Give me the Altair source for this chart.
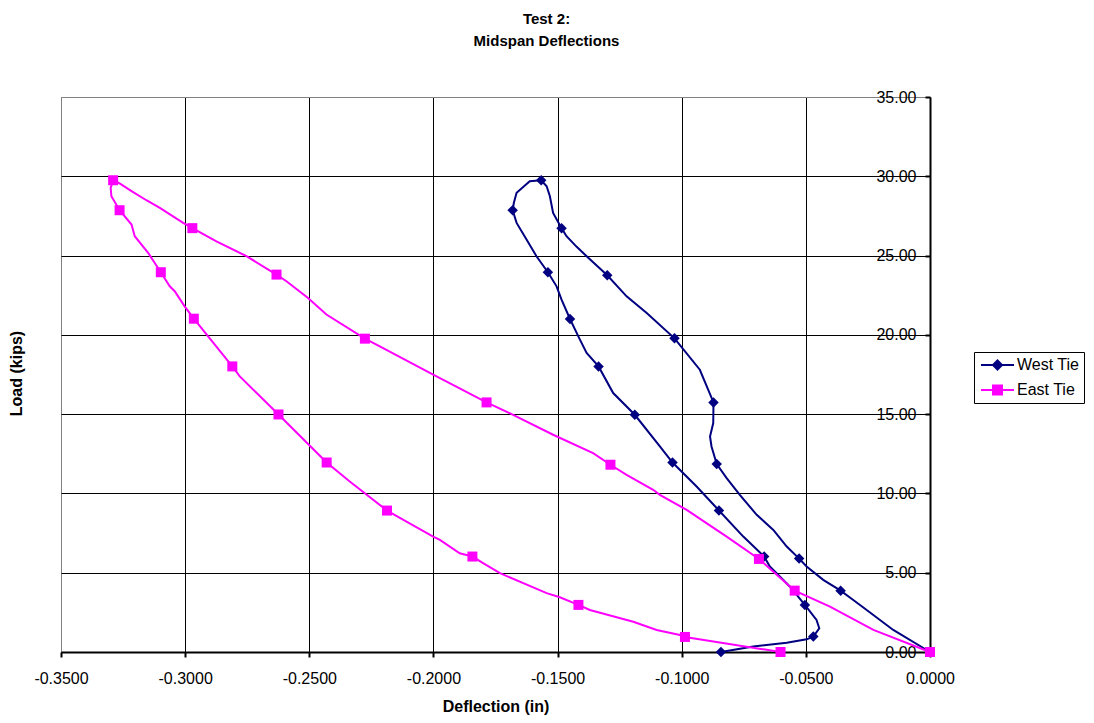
import altair as alt
import pandas as pd

# ---------------- data ----------------
series_names = ["West Tie", "East Tie"]
series_colors = ["#000080", "#FF00FF"]

west_x = [0.0000, -0.0148, -0.0255, -0.0309, -0.0360, -0.0430, -0.0497, -0.0527, -0.0577, -0.0631,
          -0.0698, -0.0766, -0.0819, -0.0859, -0.0880, -0.0886, -0.0873, -0.0872, -0.0927, -0.1029,
          -0.1141, -0.1222, -0.1300, -0.1383, -0.1423, -0.1464, -0.1484, -0.1518, -0.1531, -0.1544,
          -0.1566, -0.1612, -0.1665, -0.1676, -0.1681, -0.1665, -0.1625, -0.1585, -0.1539, -0.1504,
          -0.1484, -0.1450, -0.1410, -0.1383, -0.1335, -0.1276, -0.1189, -0.1088, -0.1037, -0.0940,
          -0.0850, -0.0752, -0.0668, -0.0645, -0.0564, -0.0504, -0.0457, -0.0446, -0.0470, -0.0497,
          -0.0577, -0.0712, -0.0842]
west_y = [0.00, 1.39, 2.65, 3.28, 3.87, 4.55, 5.39, 5.89, 6.65, 7.70,
          8.65, 9.91, 10.97, 11.85, 12.96, 13.59, 14.44, 15.74, 17.80, 19.78,
          21.38, 22.43, 23.76, 24.96, 25.55, 26.22, 26.73, 27.69, 28.74, 29.37,
          29.75, 29.69, 28.96, 28.33, 27.86, 27.06, 26.01, 24.96, 23.95, 23.06,
          22.22, 21.00, 19.70, 18.86, 18.01, 16.33, 14.96, 12.96, 11.95, 10.44,
          8.92, 7.28, 6.02, 5.39, 4.12, 2.97, 2.02, 1.50, 0.97, 0.80,
          0.59, 0.34, 0.00]
west_marker = [1, 0, 0, 0, 1, 0, 0, 1, 0, 0,
               0, 0, 0, 1, 0, 0, 0, 1, 0, 1,
               0, 0, 1, 0, 0, 0, 1, 0, 0, 0,
               1, 0, 0, 0, 1, 0, 0, 0, 1, 0,
               0, 1, 0, 0, 1, 0, 1, 0, 1, 0,
               1, 0, 1, 0, 0, 1, 0, 0, 1, 0,
               0, 0, 1]

east_x = [0.0000, -0.0228, -0.0403, -0.0545, -0.0689, -0.0819, -0.0980, -0.1088, -0.1115, -0.1222,
          -0.1287, -0.1357, -0.1518, -0.1679, -0.1786, -0.2001, -0.2216, -0.2276, -0.2431, -0.2505,
          -0.2592, -0.2632, -0.2753, -0.2874, -0.2971, -0.3008, -0.3102, -0.3156, -0.3216, -0.3264,
          -0.3290, -0.3300, -0.3297, -0.3264, -0.3216, -0.3203, -0.3149, -0.3098, -0.3062, -0.3042,
          -0.3002, -0.2965, -0.2810, -0.2780, -0.2624, -0.2430, -0.2337, -0.2187, -0.2001, -0.1974,
          -0.1894, -0.1843, -0.1800, -0.1732, -0.1544, -0.1491, -0.1416, -0.1370, -0.1195, -0.1101,
          -0.1007, -0.0987, -0.0602]
east_y = [0.00, 1.39, 2.86, 3.87, 5.87, 7.28, 8.96, 9.91, 10.23, 11.17,
          11.81, 12.54, 13.70, 14.96, 15.74, 17.49, 19.27, 19.76, 21.28, 22.33,
          23.38, 23.80, 24.96, 25.90, 26.73, 27.06, 28.01, 28.49, 29.06, 29.55,
          29.75, 29.27, 28.74, 27.86, 26.96, 26.22, 25.17, 23.95, 23.06, 22.75,
          21.80, 21.02, 18.01, 17.38, 14.98, 11.95, 10.75, 8.92, 7.28, 7.07,
          6.23, 6.02, 5.60, 4.97, 3.71, 3.45, 2.97, 2.65, 1.91, 1.39,
          1.07, 0.95, 0.00]
east_marker = [1, 0, 0, 1, 1, 0, 0, 0, 0, 0,
               1, 0, 0, 0, 1, 0, 0, 1, 0, 0,
               0, 1, 0, 0, 1, 0, 0, 0, 0, 0,
               1, 0, 0, 1, 0, 0, 0, 1, 0, 0,
               0, 1, 1, 0, 1, 1, 0, 1, 0, 0,
               0, 1, 0, 0, 0, 0, 1, 0, 0, 0,
               0, 1, 1]

x_ticks = [-0.35, -0.30, -0.25, -0.20, -0.15, -0.10, -0.05, 0.0]
y_ticks = [0, 5, 10, 15, 20, 25, 30, 35]

# ---------------- table ----------------
rows = []
for name, xs, ys, ms in [(series_names[0], west_x, west_y, west_marker),
                         (series_names[1], east_x, east_y, east_marker)]:
    for i, (xv, yv, mv) in enumerate(zip(xs, ys, ms)):
        rows.append({"series": name, "idx": i, "x": xv, "y": yv, "marker": mv})
df = pd.DataFrame(rows)

FONT = "Liberation Sans"

# legend glyphs: line with marker (custom paths)
legend_paths = [
    "M-0.75,0L3.375,0M1.3125,-0.5625L1.875,0L1.3125,0.5625L0.75,0Z",
    "M-0.75,0L3.375,0M0.75,-0.5625L1.875,-0.5625L1.875,0.5625L0.75,0.5625Z",
]

x_enc = alt.X(
    "x:Q",
    scale=alt.Scale(domain=[-0.35, 0.0], nice=False, zero=False),
    axis=alt.Axis(
        values=x_ticks,
        title="Deflection (in)",
        labelExpr="(datum.value < -0.00001 ? '-' : '') + format(abs(datum.value), '.4f')",
        labelFlush=False,
        tickSize=5, tickWidth=2, domainWidth=2, labelPadding=13,
        gridColor=alt.condition("datum.value < -0.349", alt.value("#808080"), alt.value("black")),
        titleY=54, titleBaseline="middle",
    ),
)
y_enc = alt.Y(
    "y:Q",
    scale=alt.Scale(domain=[0, 35], nice=False),
    axis=alt.Axis(
        values=y_ticks,
        format=".2f",
        orient="left",
        offset=-869,
        labelFlush=False,
        title="Load (kips)",
        titleX=-906, titleY=276,
        tickSize=5, tickWidth=2, domainWidth=2, labelPadding=9,
        gridColor=alt.condition("datum.value > 34.9", alt.value("#808080"), alt.value("black")),
    ),
)
color_scale = alt.Scale(domain=series_names, range=series_colors)

base = alt.Chart(df)

leg = alt.Legend(
    title=None, orient="none", legendX=913, legendY=255,
    padding=4, rowPadding=7, symbolSize=256, symbolStrokeWidth=2,
    symbolOpacity=1, labelOffset=21, labelFontSize=16, labelFont=FONT,
    labelColor="black", strokeColor="black", fillColor="white",
)
# invisible layer that only carries the legend (first, so its legend settings win)
legend_layer = base.transform_filter(alt.datum.marker == 1).mark_point(filled=True, opacity=0).encode(
    x=x_enc, y=y_enc,
    color=alt.Color("series:N", scale=color_scale, legend=leg),
    stroke=alt.Stroke("series:N", scale=alt.Scale(domain=series_names, range=series_colors), legend=leg),
    shape=alt.Shape("series:N", scale=alt.Scale(domain=series_names, range=legend_paths), legend=leg),
)

west_line = base.transform_filter(alt.datum.series == series_names[0]).mark_line(strokeWidth=2).encode(
    x=x_enc, y=y_enc, order="idx:Q",
    color=alt.Color("series:N", scale=color_scale, legend=None),
)
west_pts = base.transform_filter(
    (alt.datum.series == series_names[0]) & (alt.datum.marker == 1)
).mark_point(shape="diamond", filled=True, size=110, opacity=1).encode(
    x=x_enc, y=y_enc, color=alt.Color("series:N", scale=color_scale, legend=None),
)
east_line = base.transform_filter(alt.datum.series == series_names[1]).mark_line(strokeWidth=2).encode(
    x=x_enc, y=y_enc, order="idx:Q",
    color=alt.Color("series:N", scale=color_scale, legend=None),
)
east_pts = base.transform_filter(
    (alt.datum.series == series_names[1]) & (alt.datum.marker == 1)
).mark_point(shape="square", filled=True, size=100, opacity=1).encode(
    x=x_enc, y=y_enc, color=alt.Color("series:N", scale=color_scale, legend=None),
)

chart = alt.layer(legend_layer, west_line, west_pts, east_line, east_pts).properties(
    width=869,
    height=555,
    background="white",
    autosize=alt.AutoSizeParams(type="none"),
    padding={"left": 53, "top": 89, "right": 156, "bottom": 63},
    title=alt.TitleParams(
        text=["Test 2:", "Midspan Deflections"],
        font=FONT, fontSize=15, fontWeight="bold", color="black",
        anchor="middle", dx=51, offset=40, lineHeight=22,
    ),
).configure_view(
    stroke="#808080", strokeWidth=1, fill="white",
).configure_axis(
    labelFont=FONT, labelFontSize=16, labelColor="black",
    titleFont=FONT, titleFontSize=16, titleFontWeight="bold", titleColor="black",
    tickColor="black", domainColor="black", gridWidth=1, gridOpacity=1,
)

chart.save("out.html", embed_options={"renderer": "svg", "actions": False})
